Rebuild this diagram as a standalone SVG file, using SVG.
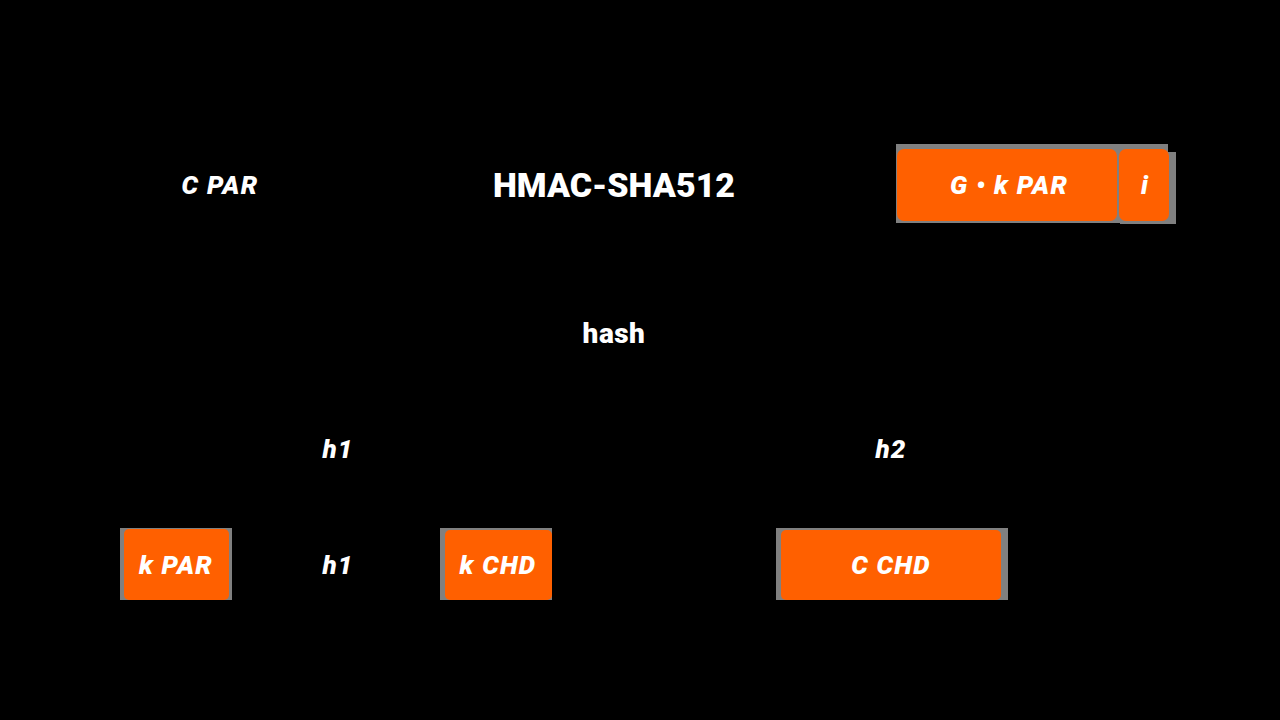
<svg xmlns="http://www.w3.org/2000/svg" width="1280" height="720" viewBox="0 0 1280 720">
<defs>
<style>
.bg{fill:#000}
.frame{fill:#808080}
.box{fill:#ff6000}
.t{fill:#fff;font-family:Roboto,"Liberation Sans",sans-serif;font-weight:900;text-anchor:middle;dominant-baseline:central}
.it{font-style:italic;font-size:26px;letter-spacing:1.2px}
.conn{stroke:#000;stroke-width:2;fill:none}
</style>
<marker id="arr" viewBox="0 0 10 10" refX="9" refY="5" markerWidth="6" markerHeight="6" orient="auto"><path d="M0,0L10,5L0,10z" fill="#000"/></marker>
</defs>
<rect class="bg" x="0" y="0" width="1280" height="720"/>
<g id="connectors">
<line class="conn" x1="270" y1="185" x2="485" y2="185" marker-end="url(#arr)"/>
<line class="conn" x1="900" y1="185" x2="745" y2="185" marker-end="url(#arr)"/>
<line class="conn" x1="614" y1="205" x2="614" y2="315" marker-end="url(#arr)"/>
<line class="conn" x1="600" y1="350" x2="345" y2="430" marker-end="url(#arr)"/>
<line class="conn" x1="630" y1="350" x2="885" y2="430" marker-end="url(#arr)"/>
<line class="conn" x1="338" y1="468" x2="338" y2="545" marker-end="url(#arr)"/>
<line class="conn" x1="891" y1="468" x2="891" y2="528" marker-end="url(#arr)"/>
<line class="conn" x1="235" y1="565" x2="318" y2="565" marker-end="url(#arr)"/>
<line class="conn" x1="360" y1="565" x2="440" y2="565" marker-end="url(#arr)"/>
</g>
<g id="cpar"><text class="t it" x="220" y="185">C PAR</text></g>
<g id="hmac"><text class="t" x="614" y="185" font-size="34">HMAC-SHA512</text></g>
<g id="gkpar">
<rect class="frame" x="896" y="144" width="272" height="79"/>
<rect class="frame" x="1120" y="152" width="56" height="72"/>
<rect class="box" x="897" y="149" width="220" height="72" rx="7"/>
<text class="t it" x="1009" y="185">G • k PAR</text>
</g>
<g id="i">
<rect class="box" x="1119" y="149" width="50" height="72" rx="7"/>
<text class="t it" x="1145" y="185">i</text>
</g>
<g id="hash"><text class="t" x="614" y="333" font-size="28" letter-spacing="0.5">hash</text></g>
<g id="h1"><text class="t it" x="338" y="449">h1</text></g>
<g id="h2"><text class="t it" x="891" y="449">h2</text></g>
<g id="kpar">
<rect class="frame" x="120" y="528" width="112" height="72"/>
<rect class="box" x="124" y="529" width="105" height="71" rx="5"/>
<text class="t it" x="176" y="565">k PAR</text>
</g>
<g id="h1b"><text class="t it" x="338" y="565">h1</text></g>
<g id="kchd">
<rect class="frame" x="440" y="528" width="112" height="72"/>
<rect class="box" x="445" y="530" width="107" height="70" rx="5"/>
<text class="t it" x="498" y="565">k CHD</text>
</g>
<g id="cchd">
<rect class="frame" x="776" y="528" width="232" height="72"/>
<rect class="box" x="781" y="530" width="220" height="70" rx="5"/>
<text class="t it" x="891" y="565">C CHD</text>
</g>
</svg>
